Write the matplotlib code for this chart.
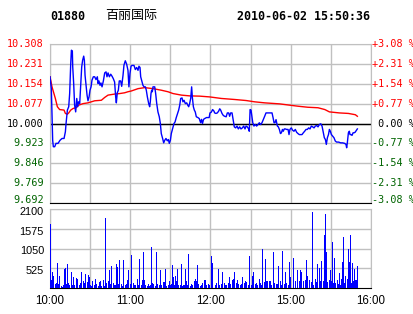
import matplotlib
matplotlib.use('Agg')
import matplotlib.pyplot as plt
import matplotlib.transforms as mtransforms
import numpy as np

# minutes since 10:00 (trading time, lunch break removed)
price_min = [0, 1, 2, 2.5, 3.5, 4.5, 6, 7.5, 9, 10.5, 11.5, 12, 13, 14, 14.7, 15.5, 16, 16.7, 17, 17.7,
             18.4, 19.2, 20, 20.7, 21.4, 22.2, 23, 23.7, 24.4, 25.2, 25.7, 26.2, 27, 27.7, 28.4, 29.2,
             29.9, 30.7, 31.4, 32.4, 33.4, 34.4, 35.4, 35.9, 36.6, 37.4, 38.1, 38.9, 39.9, 40.9, 41.9,
             42.6, 43.4, 44.4, 45.4, 46.4, 47.3, 48.3, 49.1, 49.6, 50.3, 51.1, 51.8, 52.8, 53.6, 54.6,
             55.3, 56.3, 57.3, 58.3, 59, 59.8, 60.6, 61.3, 62.8, 63.8, 64.8, 65.8, 66.5, 67.3, 67.8,
             68.5, 69.5, 70.3, 71.3, 72, 72.8, 73.8, 74.5, 75, 75.5, 76, 76.5, 77, 78.3, 79, 79.8, 80.7,
             81.7, 82.5, 83.2, 84.2, 85, 85.8, 86.7, 87.7, 88.5, 89.2, 90, 90.7, 91.7, 92.7, 93.5, 94.4,
             95.4, 96.2, 97, 97.7, 98.7, 99.4, 100.2, 101.2, 102.2, 103, 103.7, 104.4, 105.2, 105.9,
             106.4, 107.2, 107.9, 108.6, 109.4, 110.6, 111.6, 112.6, 113.3, 114, 114.8, 115.6, 117,
             119, 119.6, 120.6, 121.6, 122.6, 123.1, 124.1, 125.1, 126.1, 126.9, 127.6, 128.6, 129.6,
             130.6, 131.7, 132.6, 133.6, 134.3, 135.1, 136.1, 137.1, 137.8, 138.8, 139.8, 140.8,
             141.8, 142.8, 143.8, 144.8, 145.8, 146.6, 147.5, 148.5, 149, 149.6, 150.3, 150.9, 151.6,
             152.5, 153.5, 154.5, 155.5, 156.5, 157.5, 158.5, 159.5, 160.5, 161.5, 163, 165, 166,
             166.8, 167.5, 168.2, 169, 169.5, 170, 170.7, 171.5, 172.3, 173, 173.8, 174.4, 175.2,
             175.9, 176.9, 178, 178.7, 179.4, 180.4, 181.4, 182.4, 183.4, 184.4, 185.4, 186.4, 187.4,
             188.4, 189.4, 190.4, 191.4, 192.4, 193.4, 194.4, 195.4, 196.4, 197.4, 198.4, 199.4,
             200.4, 201.4, 202.4, 203.4, 204.4, 205.1, 205.9, 206.6, 207.4, 208.2, 208.9, 209.6,
             210.4, 211.3, 212.3, 213.3, 214.3, 215.8, 217.3, 218.8, 220.3, 221.3, 221.8, 222.3,
             223.1, 223.8, 224.3, 225.1, 225.8, 226.6, 227.3, 228.1, 229.1, 229.8]
price = [10.181, 10.135, 9.935, 9.910, 9.910, 9.923, 9.923, 9.935, 9.942, 9.942, 9.968, 10.000,
         10.052, 10.065, 10.116, 10.232, 10.284, 10.281, 10.219, 10.155, 10.071, 10.045, 10.097,
         10.065, 10.084, 10.077, 10.155, 10.219, 10.245, 10.261, 10.245, 10.187, 10.148, 10.110,
         10.088, 10.103, 10.129, 10.142, 10.168, 10.181, 10.181, 10.170, 10.181, 10.155, 10.165,
         10.148, 10.157, 10.142, 10.165, 10.196, 10.200, 10.181, 10.196, 10.181, 10.191, 10.183,
         10.174, 10.161, 10.103, 10.080, 10.119, 10.129, 10.165, 10.165, 10.144, 10.187, 10.226,
         10.243, 10.230, 10.206, 10.142, 10.194, 10.222, 10.225, 10.225, 10.209, 10.217, 10.206,
         10.222, 10.217, 10.181, 10.168, 10.148, 10.142, 10.142, 10.129, 10.103, 10.077, 10.065,
         10.084, 10.116, 10.129, 10.123, 10.142, 10.142, 10.116, 10.077, 10.045, 10.026, 10.000,
         9.961, 9.942, 9.925, 9.935, 9.942, 9.933, 9.938, 9.923, 9.935, 9.961, 9.981, 10.000,
         10.006, 10.023, 10.039, 10.052, 10.071, 10.097, 10.099, 10.084, 10.090, 10.077, 10.080,
         10.071, 10.065, 10.077, 10.097, 10.142, 10.103, 10.065, 10.052, 10.045, 10.026, 10.023,
         10.019, 10.003, 10.016, 10.000, 10.016, 10.019, 10.023, 10.023, 10.041, 10.044, 10.054,
         10.048, 10.041, 10.039, 10.041, 10.048, 10.057, 10.052, 10.039, 10.031, 10.028, 10.026,
         10.041, 10.041, 10.028, 10.041, 10.041, 10.009, 9.987, 9.983, 9.990, 9.979, 9.987, 9.979,
         9.983, 9.990, 9.979, 9.990, 9.987, 9.979, 9.970, 10.054, 10.052, 10.028, 10.003, 9.990,
         9.996, 9.990, 9.996, 10.003, 9.996, 10.003, 10.015, 10.028, 10.041, 10.041, 10.041,
         10.041, 10.022, 10.003, 10.003, 10.015, 10.003, 9.990, 9.987, 9.977, 9.961, 9.964, 9.977,
         9.970, 9.979, 9.979, 9.977, 9.977, 9.957, 9.977, 9.983, 9.974, 9.970, 9.977, 9.966, 9.961,
         9.957, 9.957, 9.957, 9.964, 9.970, 9.977, 9.977, 9.983, 9.979, 9.990, 9.987, 9.983, 9.990,
         9.992, 9.987, 9.996, 9.999, 9.990, 9.964, 9.945, 9.938, 9.919, 9.945, 9.957, 9.977, 9.970,
         9.957, 9.951, 9.945, 9.932, 9.928, 9.928, 9.925, 9.925, 9.923, 9.919, 9.906, 9.925, 9.964,
         9.970, 9.957, 9.957, 9.954, 9.964, 9.964, 9.966, 9.974, 9.979]

avg_min = [0, 1.5, 4, 5.5, 7.2, 10.5, 11.5, 13, 14, 15.5, 17.2, 19.7, 21.4, 24.7, 28.4, 33.4, 38.4,
           40.9, 43.4, 48.3, 52.1, 55.8, 58.3, 60.8, 65.8, 70.8, 77, 83.2, 88.2, 92, 98.2, 104.4,
           111.9, 119.4, 128.1, 138.1, 146.6, 153, 160.5, 171.7, 179.2, 185.4, 192.7, 200.4, 205.5,
           208.9, 216.3, 223.1, 228.3, 229.8]
avg_price = [10.181, 10.142, 10.097, 10.065, 10.054, 10.052, 10.039, 10.036, 10.041, 10.052,
             10.058, 10.062, 10.071, 10.077, 10.080, 10.088, 10.090, 10.101, 10.110, 10.114,
             10.116, 10.119, 10.123, 10.126, 10.135, 10.139, 10.135, 10.129, 10.123, 10.116,
             10.110, 10.107, 10.106, 10.103, 10.097, 10.093, 10.089, 10.084, 10.080, 10.076,
             10.071, 10.067, 10.063, 10.061, 10.054, 10.045, 10.041, 10.039, 10.034, 10.028]

vol_min = [0.2, 1.0, 1.7, 2.5, 3.5, 4.5, 5.5, 6.2, 7.0, 8.0, 9.0, 10.0, 10.7, 11.5, 12.2, 13.0, 13.7,
           14.5, 15.7, 16.4, 17.4, 18.2, 19.4, 20.4, 21.4, 22.4, 23.4, 24.4, 25.4, 26.4, 27.4, 28.2,
           28.9, 29.7, 30.9, 31.7, 32.6, 33.6, 34.6, 35.6, 36.9, 37.6, 38.4, 39.4, 40.4, 41.1, 42.1,
           43.1, 44.1, 45.1, 45.9, 46.9, 47.9, 48.8, 49.6, 50.3, 51.1, 51.8, 52.8, 53.8, 54.8, 55.8,
           56.8, 57.8, 58.6, 59.6, 60.6,
           61.8, 62.8, 63.8, 64.8, 65.8, 66.8, 67.8, 68.5, 69.5, 70.3, 71.3, 72.3, 73.0, 73.8, 74.5,
           75.5, 76.3, 77.3, 78.3, 79.2, 80.2, 81.2, 82.2, 83.2, 84.2, 85.2, 86.0, 86.9, 87.9, 88.7,
           89.7, 90.5, 91.2, 92.0, 92.7, 93.7, 94.5, 95.2, 96.0, 97.0, 97.7, 98.4, 99.4, 100.2, 101.2,
           102.0, 102.7, 103.4, 104.4, 105.4, 106.4, 107.4, 108.4, 109.2, 109.9, 110.9, 111.9, 112.9,
           113.9, 114.9, 115.9, 116.9, 117.9, 118.9,
           120.1, 121.1, 123.1, 124.4, 125.6, 126.6, 127.6, 128.8, 129.8, 130.8, 131.8, 132.8, 133.8,
           134.8, 135.8, 136.8, 137.8, 138.8, 139.8, 140.8, 141.8, 142.8, 143.8, 144.8, 145.8, 146.8,
           147.8, 149.0, 150.0, 151.0, 152.0, 153.0, 154.0, 155.0, 156.0, 157.0, 158.0, 158.8, 159.7,
           160.5, 161.5, 162.5, 163.5, 164.5, 165.5, 166.7, 167.7, 168.7, 169.7, 170.7, 171.7, 172.7,
           173.7, 174.7, 175.7, 176.7, 177.7, 178.7, 179.4,
           181.4, 182.9, 184.4, 185.9, 186.9, 187.9, 189.4, 190.4, 191.4, 192.4, 193.4, 194.9, 195.9,
           196.9, 197.9, 198.9, 199.9, 200.9, 201.9, 202.9, 203.9, 204.9, 205.6, 206.4, 207.4, 208.4,
           209.3, 210.1, 210.8, 211.6, 212.3, 213.3, 214.3, 215.1, 215.8, 216.6, 217.3, 218.4, 218.9,
           219.9, 220.8, 221.8, 222.8, 223.8, 224.6, 225.3, 225.9, 226.6, 227.4, 228.4, 229.6]
volume = [1700, 220, 425, 330, 106, 133, 665, 106, 310, 44, 27, 89, 505, 530, 106, 640, 133,
          89, 425, 89, 290, 89, 265, 250, 71, 133, 425, 177, 133, 370, 160, 335,
          283, 71, 44, 195, 71, 240, 106, 44, 160, 195, 44, 220, 44, 1860, 133,
          195, 487, 106, 576, 133, 71, 89, 640, 550, 106, 753, 106, 44, 753, 71,
          106, 220, 487, 106, 886,
          133, 71, 71, 250, 89, 780, 89, 220, 957, 220, 89, 44, 106, 44, 89,
          1080, 133, 106, 44, 957, 106, 71, 478, 71, 160, 160, 505, 44, 71, 195,
          71, 106, 620, 283, 71, 310, 195, 514, 71, 71, 640, 44, 71, 89, 514,
          195, 89, 904, 44, 106, 71, 195, 250, 195, 620, 106, 44, 71,
          133, 220, 220, 71, 106, 71,
          842, 665, 89, 133, 505, 71, 106, 425, 133, 71, 89, 133, 283,
          106, 220, 250, 425, 133, 220, 106, 71, 106, 283, 133, 177, 160,
          71, 842, 71, 330, 425, 106, 133, 71, 240, 133, 71, 1045, 160,
          780, 195, 177, 177, 177, 71, 957, 133, 106, 106, 576, 177, 71,
          992, 106, 425, 133, 71, 690, 283,
          798, 177, 470, 177, 488, 417, 177, 222, 754, 328, 222, 150, 2030,
          89, 240, 150, 647, 532, 177, 710, 177, 1420, 1978, 950, 150, 222,
          488, 177, 1215, 133, 798, 133, 222, 115, 400, 89, 240, 683, 1357,
          133, 310, 240, 1038, 683, 1400, 133, 665, 177, 505, 222, 594]

price_ticks = [10.308, 10.231, 10.154, 10.077, 10.000, 9.923, 9.846, 9.769, 9.692]
pct_labels = ['+3.08 %', '+2.31 %', '+1.54 %', '+0.77 %', ' 0.00 %',
              '-0.77 %', '-1.54 %', '-2.31 %', '-3.08 %']
vol_ticks = [525, 1050, 1575, 2100]
time_ticks = [0, 60, 120, 180, 240]
time_labels = ['10:00', '11:00', '12:00', '15:00', '16:00']

RED = '#ff0000'
GREEN = '#006400'
GRID = '#c0c0c0'
mono = 'DejaVu Sans Mono'

W, H = 414, 314
fig = plt.figure(figsize=(W / 100, H / 100), dpi=100)
fig.patch.set_facecolor('white')

ax = fig.add_axes([50 / W, 1 - 203 / H, 321 / W, 159 / H])
axv = fig.add_axes([50 / W, 1 - 288 / H, 321 / W, 79 / H])


def shifted(axis_tr, dx_px, dy_px):
    return axis_tr + mtransforms.ScaledTranslation(dx_px / 100, dy_px / 100, fig.dpi_scale_trans)


# price panel
ax.set_xlim(0, 240)
ax.set_ylim(9.692, 10.308)
ax.set_xticks(np.arange(0, 241, 30))
ax.set_xticklabels([])
ax.set_yticks(price_ticks)
ax.set_yticklabels([])
ax.tick_params(length=0)
ax.grid(True, color=GRID, linewidth=1)
ax.set_axisbelow(True)
for s in ['top', 'left', 'right']:
    ax.spines[s].set_color(GRID)
ax.spines['bottom'].set_color('black')
ax.axhline(10.0, color='black', linewidth=1, zorder=2)

for i, (v, t) in enumerate(zip(price_ticks, pct_labels)):
    c = RED if v > 10.0005 else (GREEN if v < 9.9995 else 'black')
    dy = 3 if i == len(price_ticks) - 1 else 0
    ax.text(0.0, v, '%.3f' % v, transform=shifted(ax.get_yaxis_transform(), -6, dy),
            ha='right', va='center', fontfamily=mono, fontsize=7.3, color=c, clip_on=False)
    ax.text(1.0, v, t, transform=shifted(ax.get_yaxis_transform(), 1, dy), ha='left',
            va='center', fontfamily=mono, fontsize=7.3, color=c, clip_on=False)

ax.plot(avg_min, avg_price, color=RED, linewidth=1, zorder=3)
ax.plot(price_min, price, color='#0000ff', linewidth=1, zorder=4)

# volume panel
axv.bar(vol_min, volume, width=0.8, color='#0000ff', align='edge', linewidth=0,
        antialiased=False, zorder=3)
axv.set_xlim(0, 240)
axv.set_ylim(0, 2100)
axv.set_xticks(time_ticks)
axv.set_xticklabels(time_labels, fontfamily='Liberation Sans', fontsize=8.3)
axv.set_xticks([30, 90, 150, 210], minor=True)
axv.set_yticks(vol_ticks)
axv.set_yticklabels([])
for v in vol_ticks:
    axv.text(0.0, v, str(v), transform=shifted(axv.get_yaxis_transform(), -6, -3),
             ha='right', va='center', fontfamily='Liberation Sans', fontsize=7.8, clip_on=False)
axv.tick_params(which='both', length=0, pad=5)
axv.grid(True, which='both', color=GRID, linewidth=1)
axv.set_axisbelow(True)
for s in ['top', 'left', 'right']:
    axv.spines[s].set_color(GRID)
axv.spines['bottom'].set_color('black')

# header
fig.text(50 / W, 1 - 16 / H, '01880', fontfamily=mono, fontweight='bold', fontsize=8.4,
         va='center', ha='left')
fig.text(105 / W, 1 - 16 / H, '百丽国际', fontfamily=['Noto Sans CJK SC', 'DejaVu Sans'],
         fontsize=9.4, va='center', ha='left')
fig.text(370 / W, 1 - 16 / H, '2010-06-02 15:50:36', fontfamily=mono, fontweight='bold',
         fontsize=8.4, va='center', ha='right')

fig.savefig('out.png', dpi=100, facecolor='white')
